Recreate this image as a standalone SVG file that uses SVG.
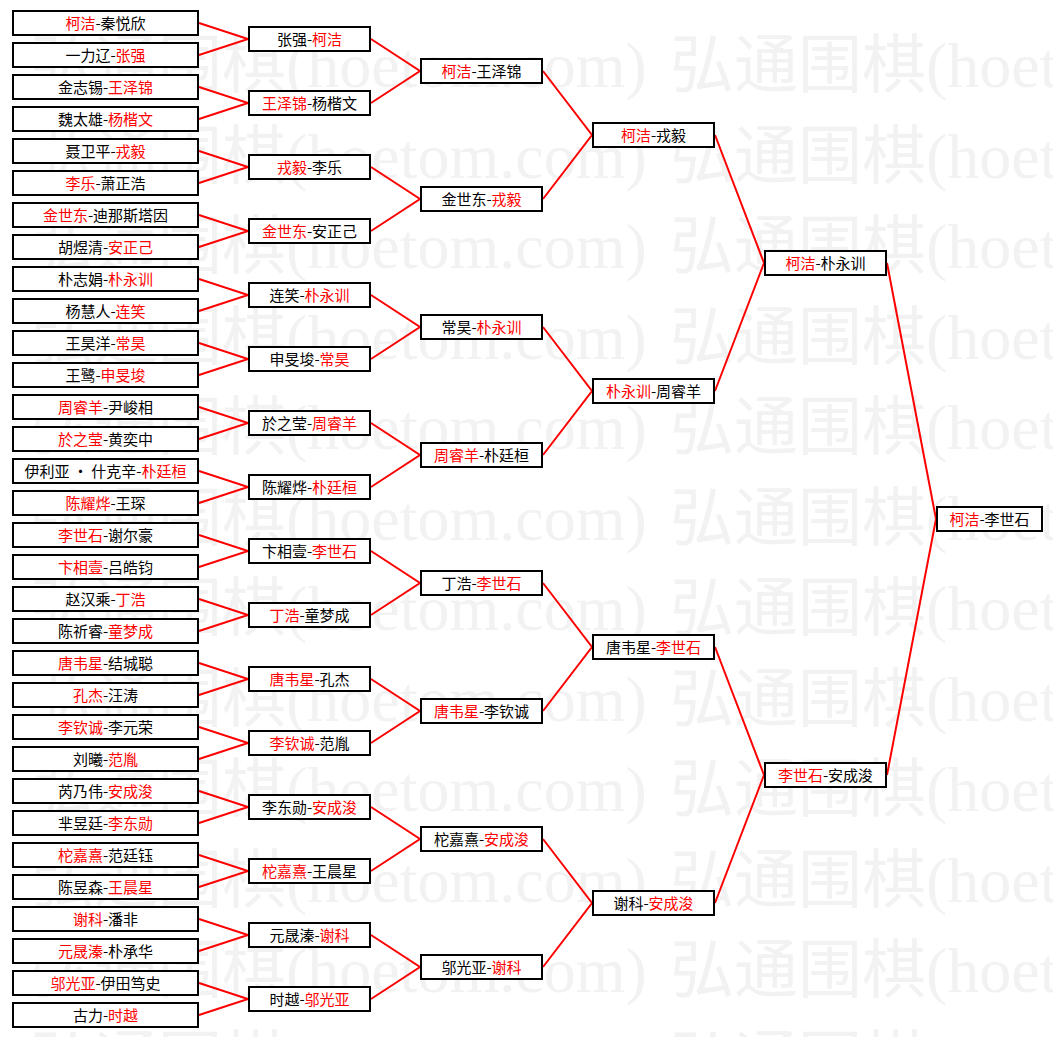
<svg xmlns="http://www.w3.org/2000/svg" width="1053" height="1037" viewBox="0 0 1053 1037">
<style>
.bg{fill:#ffffff}
.w{font-family:"Liberation Serif","Noto Sans CJK SC",serif;font-size:64px;fill:#f2f2f2}
.n rect{fill:#fff;stroke:#000;stroke-width:2}
.n text{font-family:"Noto Sans CJK SC","Noto Sans",sans-serif;font-size:15px;fill:#000;text-anchor:middle}
.n .r{fill:#f00}
#connectors path{fill:none;stroke:#f00;stroke-width:2}
</style>
<rect class="bg" x="0" y="0" width="1053" height="1037"/>
<g id="watermark">
<text class="w" x="30" y="87">弘通围棋(hoetom.com)</text><text class="w" x="670" y="87">弘通围棋(hoetom.com)</text>
<text class="w" x="30" y="177.5">弘通围棋(hoetom.com)</text><text class="w" x="670" y="177.5">弘通围棋(hoetom.com)</text>
<text class="w" x="30" y="268">弘通围棋(hoetom.com)</text><text class="w" x="670" y="268">弘通围棋(hoetom.com)</text>
<text class="w" x="30" y="358.5">弘通围棋(hoetom.com)</text><text class="w" x="670" y="358.5">弘通围棋(hoetom.com)</text>
<text class="w" x="30" y="449">弘通围棋(hoetom.com)</text><text class="w" x="670" y="449">弘通围棋(hoetom.com)</text>
<text class="w" x="30" y="539.5">弘通围棋(hoetom.com)</text><text class="w" x="670" y="539.5">弘通围棋(hoetom.com)</text>
<text class="w" x="30" y="630">弘通围棋(hoetom.com)</text><text class="w" x="670" y="630">弘通围棋(hoetom.com)</text>
<text class="w" x="30" y="720.5">弘通围棋(hoetom.com)</text><text class="w" x="670" y="720.5">弘通围棋(hoetom.com)</text>
<text class="w" x="30" y="811">弘通围棋(hoetom.com)</text><text class="w" x="670" y="811">弘通围棋(hoetom.com)</text>
<text class="w" x="30" y="901.5">弘通围棋(hoetom.com)</text><text class="w" x="670" y="901.5">弘通围棋(hoetom.com)</text>
<text class="w" x="30" y="992">弘通围棋(hoetom.com)</text><text class="w" x="670" y="992">弘通围棋(hoetom.com)</text>
<text class="w" x="30" y="1082.5">弘通围棋(hoetom.com)</text><text class="w" x="670" y="1082.5">弘通围棋(hoetom.com)</text>
</g>
<g id="connectors">
<path d="M199,23 L248,39 L199,55"/><path d="M199,87 L248,103 L199,119"/><path d="M199,151 L248,167 L199,183"/><path d="M199,215 L248,231 L199,247"/>
<path d="M199,279 L248,295 L199,311"/><path d="M199,343 L248,359 L199,375"/><path d="M199,407 L248,423 L199,439"/><path d="M199,471 L248,487 L199,503"/>
<path d="M199,535 L248,551 L199,567"/><path d="M199,599 L248,615 L199,631"/><path d="M199,663 L248,679 L199,695"/><path d="M199,727 L248,743 L199,759"/>
<path d="M199,791 L248,807 L199,823"/><path d="M199,855 L248,871 L199,887"/><path d="M199,919 L248,935 L199,951"/><path d="M199,983 L248,999 L199,1015"/>
<path d="M371,39 L420,71 L371,103"/><path d="M371,167 L420,199 L371,231"/><path d="M371,295 L420,327 L371,359"/><path d="M371,423 L420,455 L371,487"/>
<path d="M371,551 L420,583 L371,615"/><path d="M371,679 L420,711 L371,743"/><path d="M371,807 L420,839 L371,871"/><path d="M371,935 L420,967 L371,999"/>
<path d="M543,71 L592,135 L543,199"/><path d="M543,327 L592,391 L543,455"/><path d="M543,583 L592,647 L543,711"/><path d="M543,839 L592,903 L543,967"/>
<path d="M715,135 L764,263 L715,391"/><path d="M715,647 L764,775 L715,903"/>
<path d="M887,263 L936,519 L887,775"/>
</g>
<g id="r1">
<g class="n" id="r1-0"><rect x="13" y="11" width="185" height="24"/><text x="105.5" y="28.5"><tspan class="r">柯洁</tspan>-秦悦欣</text></g>
<g class="n" id="r1-1"><rect x="13" y="43" width="185" height="24"/><text x="105.5" y="60.5">一力辽-<tspan class="r">张强</tspan></text></g>
<g class="n" id="r1-2"><rect x="13" y="75" width="185" height="24"/><text x="105.5" y="92.5">金志锡-<tspan class="r">王泽锦</tspan></text></g>
<g class="n" id="r1-3"><rect x="13" y="107" width="185" height="24"/><text x="105.5" y="124.5">魏太雄-<tspan class="r">杨楷文</tspan></text></g>
<g class="n" id="r1-4"><rect x="13" y="139" width="185" height="24"/><text x="105.5" y="156.5">聂卫平-<tspan class="r">戎毅</tspan></text></g>
<g class="n" id="r1-5"><rect x="13" y="171" width="185" height="24"/><text x="105.5" y="188.5"><tspan class="r">李乐</tspan>-萧正浩</text></g>
<g class="n" id="r1-6"><rect x="13" y="203" width="185" height="24"/><text x="105.5" y="220.5"><tspan class="r">金世东</tspan>-迪那斯塔因</text></g>
<g class="n" id="r1-7"><rect x="13" y="235" width="185" height="24"/><text x="105.5" y="252.5">胡煜清-<tspan class="r">安正己</tspan></text></g>
<g class="n" id="r1-8"><rect x="13" y="267" width="185" height="24"/><text x="105.5" y="284.5">朴志娟-<tspan class="r">朴永训</tspan></text></g>
<g class="n" id="r1-9"><rect x="13" y="299" width="185" height="24"/><text x="105.5" y="316.5">杨慧人-<tspan class="r">连笑</tspan></text></g>
<g class="n" id="r1-10"><rect x="13" y="331" width="185" height="24"/><text x="105.5" y="348.5">王昊洋-<tspan class="r">常昊</tspan></text></g>
<g class="n" id="r1-11"><rect x="13" y="363" width="185" height="24"/><text x="105.5" y="380.5">王鹭-<tspan class="r">申旻埈</tspan></text></g>
<g class="n" id="r1-12"><rect x="13" y="395" width="185" height="24"/><text x="105.5" y="412.5"><tspan class="r">周睿羊</tspan>-尹峻相</text></g>
<g class="n" id="r1-13"><rect x="13" y="427" width="185" height="24"/><text x="105.5" y="444.5"><tspan class="r">於之莹</tspan>-黄奕中</text></g>
<g class="n" id="r1-14"><rect x="13" y="459" width="185" height="24"/><text x="105.5" y="476.5">伊利亚 · 什克辛-<tspan class="r">朴廷桓</tspan></text></g>
<g class="n" id="r1-15"><rect x="13" y="491" width="185" height="24"/><text x="105.5" y="508.5"><tspan class="r">陈耀烨</tspan>-王琛</text></g>
<g class="n" id="r1-16"><rect x="13" y="523" width="185" height="24"/><text x="105.5" y="540.5"><tspan class="r">李世石</tspan>-谢尔豪</text></g>
<g class="n" id="r1-17"><rect x="13" y="555" width="185" height="24"/><text x="105.5" y="572.5"><tspan class="r">卞相壹</tspan>-吕皓钧</text></g>
<g class="n" id="r1-18"><rect x="13" y="587" width="185" height="24"/><text x="105.5" y="604.5">赵汉乘-<tspan class="r">丁浩</tspan></text></g>
<g class="n" id="r1-19"><rect x="13" y="619" width="185" height="24"/><text x="105.5" y="636.5">陈祈睿-<tspan class="r">童梦成</tspan></text></g>
<g class="n" id="r1-20"><rect x="13" y="651" width="185" height="24"/><text x="105.5" y="668.5"><tspan class="r">唐韦星</tspan>-结城聪</text></g>
<g class="n" id="r1-21"><rect x="13" y="683" width="185" height="24"/><text x="105.5" y="700.5"><tspan class="r">孔杰</tspan>-汪涛</text></g>
<g class="n" id="r1-22"><rect x="13" y="715" width="185" height="24"/><text x="105.5" y="732.5"><tspan class="r">李钦诚</tspan>-李元荣</text></g>
<g class="n" id="r1-23"><rect x="13" y="747" width="185" height="24"/><text x="105.5" y="764.5">刘曦-<tspan class="r">范胤</tspan></text></g>
<g class="n" id="r1-24"><rect x="13" y="779" width="185" height="24"/><text x="105.5" y="796.5">芮乃伟-<tspan class="r">安成浚</tspan></text></g>
<g class="n" id="r1-25"><rect x="13" y="811" width="185" height="24"/><text x="105.5" y="828.5">芈昱廷-<tspan class="r">李东勋</tspan></text></g>
<g class="n" id="r1-26"><rect x="13" y="843" width="185" height="24"/><text x="105.5" y="860.5"><tspan class="r">柁嘉熹</tspan>-范廷钰</text></g>
<g class="n" id="r1-27"><rect x="13" y="875" width="185" height="24"/><text x="105.5" y="892.5">陈昱森-<tspan class="r">王晨星</tspan></text></g>
<g class="n" id="r1-28"><rect x="13" y="907" width="185" height="24"/><text x="105.5" y="924.5"><tspan class="r">谢科</tspan>-潘非</text></g>
<g class="n" id="r1-29"><rect x="13" y="939" width="185" height="24"/><text x="105.5" y="956.5"><tspan class="r">元晟溱</tspan>-朴承华</text></g>
<g class="n" id="r1-30"><rect x="13" y="971" width="185" height="24"/><text x="105.5" y="988.5"><tspan class="r">邬光亚</tspan>-伊田笃史</text></g>
<g class="n" id="r1-31"><rect x="13" y="1003" width="185" height="24"/><text x="105.5" y="1020.5">古力-<tspan class="r">时越</tspan></text></g>
</g>
<g id="r2">
<g class="n" id="r2-0"><rect x="249" y="27" width="121" height="24"/><text x="309.5" y="44.5">张强-<tspan class="r">柯洁</tspan></text></g>
<g class="n" id="r2-1"><rect x="249" y="91" width="121" height="24"/><text x="309.5" y="108.5"><tspan class="r">王泽锦</tspan>-杨楷文</text></g>
<g class="n" id="r2-2"><rect x="249" y="155" width="121" height="24"/><text x="309.5" y="172.5"><tspan class="r">戎毅</tspan>-李乐</text></g>
<g class="n" id="r2-3"><rect x="249" y="219" width="121" height="24"/><text x="309.5" y="236.5"><tspan class="r">金世东</tspan>-安正己</text></g>
<g class="n" id="r2-4"><rect x="249" y="283" width="121" height="24"/><text x="309.5" y="300.5">连笑-<tspan class="r">朴永训</tspan></text></g>
<g class="n" id="r2-5"><rect x="249" y="347" width="121" height="24"/><text x="309.5" y="364.5">申旻埈-<tspan class="r">常昊</tspan></text></g>
<g class="n" id="r2-6"><rect x="249" y="411" width="121" height="24"/><text x="309.5" y="428.5">於之莹-<tspan class="r">周睿羊</tspan></text></g>
<g class="n" id="r2-7"><rect x="249" y="475" width="121" height="24"/><text x="309.5" y="492.5">陈耀烨-<tspan class="r">朴廷桓</tspan></text></g>
<g class="n" id="r2-8"><rect x="249" y="539" width="121" height="24"/><text x="309.5" y="556.5">卞相壹-<tspan class="r">李世石</tspan></text></g>
<g class="n" id="r2-9"><rect x="249" y="603" width="121" height="24"/><text x="309.5" y="620.5"><tspan class="r">丁浩</tspan>-童梦成</text></g>
<g class="n" id="r2-10"><rect x="249" y="667" width="121" height="24"/><text x="309.5" y="684.5"><tspan class="r">唐韦星</tspan>-孔杰</text></g>
<g class="n" id="r2-11"><rect x="249" y="731" width="121" height="24"/><text x="309.5" y="748.5"><tspan class="r">李钦诚</tspan>-范胤</text></g>
<g class="n" id="r2-12"><rect x="249" y="795" width="121" height="24"/><text x="309.5" y="812.5">李东勋-<tspan class="r">安成浚</tspan></text></g>
<g class="n" id="r2-13"><rect x="249" y="859" width="121" height="24"/><text x="309.5" y="876.5"><tspan class="r">柁嘉熹</tspan>-王晨星</text></g>
<g class="n" id="r2-14"><rect x="249" y="923" width="121" height="24"/><text x="309.5" y="940.5">元晟溱-<tspan class="r">谢科</tspan></text></g>
<g class="n" id="r2-15"><rect x="249" y="987" width="121" height="24"/><text x="309.5" y="1004.5">时越-<tspan class="r">邬光亚</tspan></text></g>
</g>
<g id="r3">
<g class="n" id="r3-0"><rect x="421" y="59" width="121" height="24"/><text x="481.5" y="76.5"><tspan class="r">柯洁</tspan>-王泽锦</text></g>
<g class="n" id="r3-1"><rect x="421" y="187" width="121" height="24"/><text x="481.5" y="204.5">金世东-<tspan class="r">戎毅</tspan></text></g>
<g class="n" id="r3-2"><rect x="421" y="315" width="121" height="24"/><text x="481.5" y="332.5">常昊-<tspan class="r">朴永训</tspan></text></g>
<g class="n" id="r3-3"><rect x="421" y="443" width="121" height="24"/><text x="481.5" y="460.5"><tspan class="r">周睿羊</tspan>-朴廷桓</text></g>
<g class="n" id="r3-4"><rect x="421" y="571" width="121" height="24"/><text x="481.5" y="588.5">丁浩-<tspan class="r">李世石</tspan></text></g>
<g class="n" id="r3-5"><rect x="421" y="699" width="121" height="24"/><text x="481.5" y="716.5"><tspan class="r">唐韦星</tspan>-李钦诚</text></g>
<g class="n" id="r3-6"><rect x="421" y="827" width="121" height="24"/><text x="481.5" y="844.5">柁嘉熹-<tspan class="r">安成浚</tspan></text></g>
<g class="n" id="r3-7"><rect x="421" y="955" width="121" height="24"/><text x="481.5" y="972.5">邬光亚-<tspan class="r">谢科</tspan></text></g>
</g>
<g id="r4">
<g class="n" id="r4-0"><rect x="593" y="123" width="121" height="24"/><text x="653.5" y="140.5"><tspan class="r">柯洁</tspan>-戎毅</text></g>
<g class="n" id="r4-1"><rect x="593" y="379" width="121" height="24"/><text x="653.5" y="396.5"><tspan class="r">朴永训</tspan>-周睿羊</text></g>
<g class="n" id="r4-2"><rect x="593" y="635" width="121" height="24"/><text x="653.5" y="652.5">唐韦星-<tspan class="r">李世石</tspan></text></g>
<g class="n" id="r4-3"><rect x="593" y="891" width="121" height="24"/><text x="653.5" y="908.5">谢科-<tspan class="r">安成浚</tspan></text></g>
</g>
<g id="r5">
<g class="n" id="r5-0"><rect x="765" y="251" width="121" height="24"/><text x="825.5" y="268.5"><tspan class="r">柯洁</tspan>-朴永训</text></g>
<g class="n" id="r5-1"><rect x="765" y="763" width="121" height="24"/><text x="825.5" y="780.5"><tspan class="r">李世石</tspan>-安成浚</text></g>
</g>
<g id="final">
<g class="n" id="r6-0"><rect x="937" y="507" width="105" height="24"/><text x="989.5" y="524.5"><tspan class="r">柯洁</tspan>-李世石</text></g>
</g>
</svg>
